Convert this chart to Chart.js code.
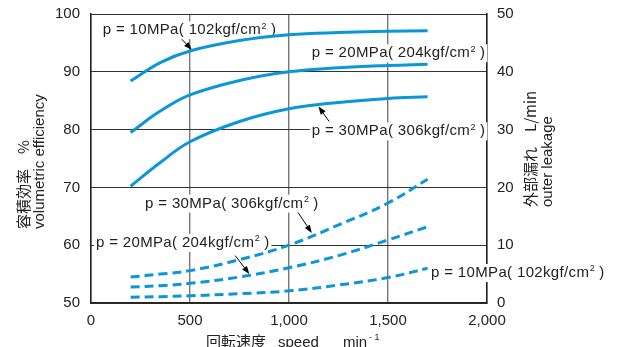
<!DOCTYPE html>
<html>
<head>
<meta charset="utf-8">
<script src="https://cdn.jsdelivr.net/npm/chart.js@4"></script>
<style>
  body { margin: 0; background: #fff; }
  #wrap { width: 618px; height: 347px; position: relative; }
</style>
</head>
<body>
<div id="wrap"><canvas id="pumpChart"></canvas></div>
<script>
// speed in min-1
const speed = [200, 350, 500, 750, 1000, 1250, 1500, 1700];

// volumetric efficiency %, left axis
const eff10 = [88.4, 91.6, 93.6, 95.4, 96.4, 96.8, 97.0, 97.1];
const eff20 = [79.5, 83.2, 86.0, 88.5, 90.0, 90.7, 91.1, 91.3];
const eff30 = [70.2, 74.3, 77.9, 81.4, 83.6, 84.7, 85.4, 85.7];

// outer leakage L/min, right axis
const leak10 = [1.0, 1.1, 1.25, 1.6, 2.1, 3.1, 4.4, 6.0];
const leak20 = [2.75, 3.0, 3.4, 4.5, 6.1, 8.2, 10.9, 13.2];
const leak30 = [4.5, 5.0, 5.6, 7.5, 10.0, 13.5, 17.3, 21.4];

const xTicks = [0, 500, 1000, 1500, 2000];

// labels: [speed, leakage-scale value] for text left/middle, optional arrow from -> to
const notes = [
    { p: '10', kgf: '102', at: [59, 47.2], arrow: [435, 46.5, 509, 43.8] },
    { p: '20', kgf: '204', at: [1115, 43.2] },
    { p: '30', kgf: '306', at: [1115, 29.7], arrow: [1203, 31.4, 1149, 34.0] },
    { p: '30', kgf: '306', at: [273, 17.2], arrow: [1043, 15.8, 1115, 12.1] },
    { p: '20', kgf: '204', at: [25, 10.4], arrow: [728, 8.2, 800, 5.0] },
    { p: '10', kgf: '102', at: [1717, 5.2] }
];

const BLUE = '#0b96d8';
const INK = '#222';
const SANS = '"Liberation Sans", Arial, sans-serif';
const CJK = '"Noto Sans CJK JP", "Liberation Sans", sans-serif';

function pts(ys) {
    return speed.map((s, i) => ({ x: s, y: ys[i] }));
}

function curve(data, axis, dashed) {
    return {
        data: pts(data),
        yAxisID: axis,
        borderColor: BLUE,
        borderWidth: 3,
        borderDash: dashed ? [9, 5] : [],
        pointRadius: 0,
        fill: false,
        tension: 0.4
    };
}

function drawArrow(ctx, x1, y1, x2, y2) {
    const ang = Math.atan2(y2 - y1, x2 - x1);
    ctx.beginPath();
    ctx.moveTo(x1, y1);
    ctx.lineTo(x2 - 5 * Math.cos(ang), y2 - 5 * Math.sin(ang));
    ctx.strokeStyle = '#000';
    ctx.lineWidth = 1;
    ctx.stroke();
    ctx.beginPath();
    ctx.moveTo(x2, y2);
    ctx.lineTo(x2 - 8 * Math.cos(ang) + 3 * Math.sin(ang), y2 - 8 * Math.sin(ang) - 3 * Math.cos(ang));
    ctx.lineTo(x2 - 8 * Math.cos(ang) - 3 * Math.sin(ang), y2 - 8 * Math.sin(ang) + 3 * Math.cos(ang));
    ctx.closePath();
    ctx.fillStyle = '#000';
    ctx.fill();
}

function drawPressure(ctx, n, x, y) {
    const main = 'p = ' + n.p + 'MPa( ' + n.kgf + 'kgf/cm';
    ctx.letterSpacing = '0.35px';
    ctx.font = '15px ' + SANS;
    const w1 = ctx.measureText(main).width;
    ctx.font = '9px ' + SANS;
    const w2 = ctx.measureText('2').width;
    ctx.font = '15px ' + SANS;
    const w3 = ctx.measureText(' )').width;
    const total = w1 + w2 + w3;

    ctx.fillStyle = '#fff';
    ctx.fillRect(x - 2, y - 9, total + 4, 18);

    ctx.fillStyle = INK;
    ctx.textBaseline = 'middle';
    ctx.textAlign = 'left';
    ctx.fillText(main, x, y);
    ctx.font = '9px ' + SANS;
    ctx.fillText('2', x + w1 + 0.5, y - 4);
    ctx.font = '15px ' + SANS;
    ctx.fillText(' )', x + w1 + w2, y);
    ctx.letterSpacing = '0px';
}

function vertText(ctx, parts, x, y) {
    ctx.save();
    ctx.translate(x, y);
    ctx.rotate(-Math.PI / 2);
    ctx.textBaseline = 'middle';
    ctx.textAlign = 'left';
    ctx.fillStyle = INK;
    let pos = 0;
    parts.forEach(([txt, font]) => {
        ctx.font = font;
        ctx.fillText(txt, pos, 0);
        pos += ctx.measureText(txt).width;
    });
    ctx.restore();
}

const notesPlugin = {
    id: 'notes',
    // drawn under the curves so the white label boxes only mask the grid
    beforeDatasetsDraw(chart) {
        const ctx = chart.ctx;
        const sx = chart.scales.x;
        const sy = chart.scales.y2;
        ctx.save();
        notes.forEach(n => {
            if (n.arrow) {
                const a = n.arrow;
                drawArrow(ctx, sx.getPixelForValue(a[0]), sy.getPixelForValue(a[1]),
                    sx.getPixelForValue(a[2]), sy.getPixelForValue(a[3]));
            }
            drawPressure(ctx, n, sx.getPixelForValue(n.at[0]), sy.getPixelForValue(n.at[1]));
        });

        // axis titles
        vertText(ctx, [['容積効率\u3000%', '15px ' + CJK]], 23, 229);
        vertText(ctx, [['volumetric efficiency', '15px ' + SANS]], 40, 229);
        vertText(ctx, [['外部漏れ\u3000L/min', '15px ' + CJK]], 530, 207);
        vertText(ctx, [['outer leakage', '15px ' + SANS]], 548, 207);

        ctx.fillStyle = INK;
        ctx.textAlign = 'left';
        ctx.textBaseline = 'alphabetic';
        ctx.font = '15px ' + CJK;
        ctx.fillText('回転速度', 206, 347);
        ctx.font = '15px ' + SANS;
        ctx.fillText('speed', 278, 347);
        ctx.fillText('min', 343, 347);
        ctx.font = '9px ' + SANS;
        ctx.fillText('- 1', 369, 340);
        ctx.restore();
    }
};

function fitY(width) {
    return s => {
        s.width = width;
        s.paddingTop = 0;
        s.paddingBottom = 0;
    };
}

new Chart(document.getElementById('pumpChart'), {
    type: 'line',
    data: {
        datasets: [
            curve(eff10, 'y', false),
            curve(eff20, 'y', false),
            curve(eff30, 'y', false),
            curve(leak10, 'y2', true),
            curve(leak20, 'y2', true),
            curve(leak30, 'y2', true)
        ]
    },
    options: {
        responsive: true,
        maintainAspectRatio: false,
        animation: false,
        layout: { padding: { top: 14, left: 0, right: 0, bottom: 0 } },
        plugins: {
            legend: { display: false },
            tooltip: { enabled: false }
        },
        scales: {
            x: {
                type: 'linear',
                min: 0,
                max: 2000,
                afterBuildTicks: s => { s.ticks = xTicks.map(v => ({ value: v })); },
                afterFit: s => { s.height = 44; s.paddingLeft = 0; s.paddingRight = 0; },
                grid: { color: '#777', lineWidth: 1.4, drawTicks: false },
                border: { color: INK, width: 1.5 },
                ticks: {
                    padding: 9,
                    color: INK,
                    font: { family: SANS, size: 15 },
                    callback: v => v.toLocaleString('en-US')
                }
            },
            y: {
                position: 'left',
                min: 50,
                max: 100,
                afterFit: fitY(91),
                grid: { display: false, drawTicks: false },
                border: { color: INK, width: 1.5 },
                ticks: {
                    stepSize: 10,
                    padding: 11,
                    color: INK,
                    font: { family: SANS, size: 15 }
                }
            },
            y2: {
                position: 'right',
                min: 0,
                max: 50,
                afterFit: fitY(131),
                grid: { color: '#333', lineWidth: 1, drawTicks: false },
                border: { color: INK, width: 1.5 },
                ticks: {
                    stepSize: 10,
                    padding: 10,
                    color: INK,
                    font: { family: SANS, size: 15 }
                }
            }
        }
    },
    plugins: [notesPlugin]
});
</script>
</body>
</html>
